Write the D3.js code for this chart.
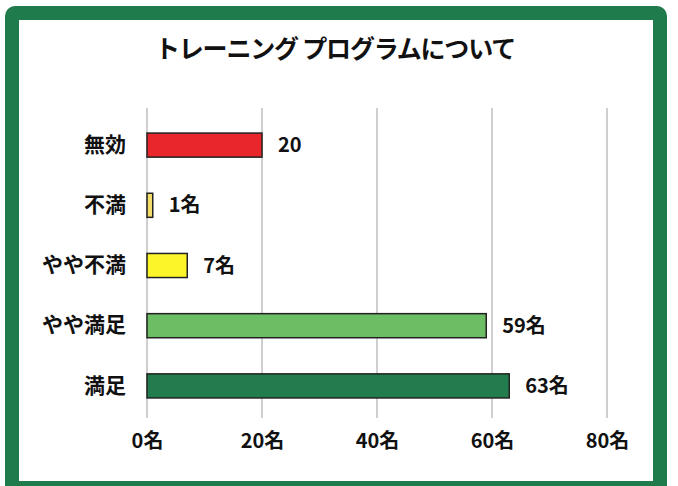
<!DOCTYPE html>
<html><head><meta charset="utf-8">
<script src="https://cdn.jsdelivr.net/npm/d3@7"></script>
<style>body{margin:0;background:#fff}svg{display:block}</style>
</head><body>
<script>
const title = "トレーニング プログラムについて";
const categories = ["無効","不満","やや不満","やや満足","満足"];
const values = [20,1,7,59,63];
const valueLabels = ["20","1名","7名","59名","63名"];
const colors = ["#e8262b","#f3dc6a","#fcf52a","#6cbd63","#237c4e"];
const tickValues = [0,20,40,60,80];
const tickLabels = ["0名","20名","40名","60名","80名"];

const W=678,H=486;
const font = "'Noto Sans CJK JP', sans-serif";
const svg = d3.select("body").append("svg").attr("width",W).attr("height",H);
svg.append("rect").attr("width",W).attr("height",H).attr("fill","#fff");
// frame
svg.append("rect").attr("x",12).attr("y",13).attr("width",648).attr("height",475)
  .attr("fill","none").attr("stroke","#1f7a4c").attr("stroke-width",14).attr("rx",3);

svg.append("text").attr("x",335).attr("y",58).attr("text-anchor","middle")
  .attr("font-family",font).attr("font-weight","bold").attr("font-size",25)
  .attr("letter-spacing",-1.2)
  .attr("fill","#111").text(title);

const x = d3.scaleLinear().domain([0,80]).range([147,607]);
const y = d3.scaleBand().domain(categories).range([115,416]).paddingInner(0.6).paddingOuter(0.3);

// gridlines
svg.append("g").selectAll("line").data(tickValues).join("line")
  .attr("x1",d=>x(d)).attr("x2",d=>x(d)).attr("y1",108).attr("y2",418)
  .attr("stroke","#cfcfcf").attr("stroke-width",2);

// x axis labels
const xAxis = d3.axisBottom(x).tickValues(tickValues).tickFormat((d,i)=>tickLabels[i]).tickSize(0).tickPadding(0);
const gx = svg.append("g").attr("transform","translate(0,434)").call(xAxis);
gx.select(".domain").remove();
gx.selectAll("text").attr("font-family",font).attr("font-weight","bold").attr("font-size",20).attr("fill","#111");

// y axis labels
const yAxis = d3.axisLeft(y).tickSize(0).tickPadding(0);
const gy = svg.append("g").attr("transform","translate(126,0)").call(yAxis);
gy.select(".domain").remove();
gy.selectAll("text").attr("font-family",font).attr("font-weight","bold").attr("font-size",21).attr("fill","#111");

// bars
svg.append("g").selectAll("rect").data(values).join("rect")
  .attr("x",x(0)).attr("y",(d,i)=>y(categories[i]))
  .attr("width",d=>x(d)-x(0)).attr("height",y.bandwidth())
  .attr("fill",(d,i)=>colors[i]).attr("stroke","#222").attr("stroke-width",1.5);

// value labels
svg.append("g").selectAll("text").data(values).join("text")
  .attr("x",d=>x(d)+16).attr("y",(d,i)=>y(categories[i])+y.bandwidth()/2)
  .attr("dy","0.35em").attr("font-family",font).attr("font-weight","bold").attr("font-size",20)
  .attr("fill","#111").text((d,i)=>valueLabels[i]);
</script>
</body></html>
